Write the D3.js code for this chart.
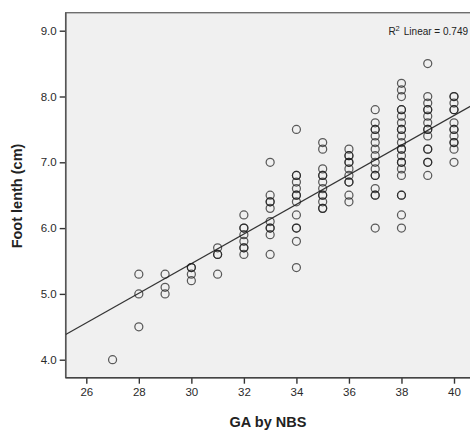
<!DOCTYPE html>
<html>
<head>
<meta charset="utf-8">
<script src="https://cdn.jsdelivr.net/npm/d3@7"></script>
<style>
  html, body { margin: 0; padding: 0; background: #fff; }
  svg { display: block; font-family: "Liberation Sans", Arial, sans-serif; }
</style>
</head>
<body>
<svg id="chart" width="470" height="431"></svg>
<script>
// ---- Data ----
const gaWeeks = [27, 28, 29, 30, 31, 32, 33, 34, 35, 36, 37, 38, 39, 40];
const footLengths = [
  [4.0],
  [5.3, 5.0, 4.5],
  [5.3, 5.1, 5.0],
  [5.4, 5.4, 5.3, 5.2],
  [5.7, 5.6, 5.6, 5.3],
  [6.2, 6.0, 6.0, 5.9, 5.8, 5.7, 5.7, 5.6],
  [7.0, 6.5, 6.4, 6.4, 6.3, 6.1, 6.0, 6.0, 5.9, 5.6],
  [7.5, 6.8, 6.8, 6.7, 6.6, 6.5, 6.5, 6.4, 6.2, 6.0, 6.0, 5.8, 5.4],
  [7.3, 7.2, 6.9, 6.8, 6.8, 6.7, 6.6, 6.5, 6.5, 6.4, 6.3, 6.3],
  [7.2, 7.1, 7.1, 7.0, 7.0, 6.9, 6.8, 6.7, 6.7, 6.5, 6.4],
  [7.8, 7.6, 7.5, 7.5, 7.4, 7.3, 7.2, 7.1, 7.0, 6.9, 6.8, 6.8, 6.6, 6.5, 6.5, 6.0],
  [8.2, 8.1, 8.0, 7.8, 7.8, 7.7, 7.6, 7.5, 7.5, 7.4, 7.3, 7.2, 7.2, 7.1, 7.0, 7.0, 6.9, 6.8, 6.5, 6.5, 6.2, 6.0],
  [8.5, 8.0, 7.9, 7.8, 7.8, 7.7, 7.6, 7.5, 7.5, 7.4, 7.2, 7.2, 7.0, 7.0, 6.8],
  [8.0, 8.0, 7.9, 7.8, 7.8, 7.6, 7.5, 7.5, 7.4, 7.3, 7.3, 7.2, 7.0]
];
const xTicks = [26, 28, 30, 32, 34, 36, 38, 40];
const yTicks = [4.0, 5.0, 6.0, 7.0, 8.0, 9.0];
const fitIntercept = -1.29;
const fitSlope = 0.225;
const r2Value = 0.749;
const xTitle = "GA by NBS";
const yTitle = "Foot lenth (cm)";

// ---- Layout ----
const svg = d3.select("#chart");
const plot = { left: 65.7, top: 12.7, right: 472, bottom: 377.7 };

const x = d3.scaleLinear().domain([26, 40]).range([86.3, 454]);
const y = d3.scaleLinear().domain([4, 9]).range([359.7, 30.7]);

// plot background
svg.append("rect")
  .attr("x", plot.left).attr("y", plot.top)
  .attr("width", plot.right - plot.left).attr("height", plot.bottom - plot.top)
  .attr("fill", "#f0f0f0").attr("stroke", "#6e6e6e").attr("stroke-width", 1.4);

svg.append("clipPath").attr("id", "clip").append("rect")
  .attr("x", plot.left).attr("y", plot.top)
  .attr("width", plot.right - plot.left).attr("height", plot.bottom - plot.top);

// axes
const yAxis = d3.axisLeft(y).tickValues(yTicks).tickFormat(d3.format(".1f")).tickSizeOuter(0).tickSize(6).tickPadding(3);
const gy = svg.append("g").attr("transform", `translate(${plot.left},0)`).call(yAxis);
gy.select(".domain").remove();

const xAxis = d3.axisBottom(x).tickValues(xTicks).tickFormat(d3.format("d")).tickSizeOuter(0).tickSize(6).tickPadding(4);
const gx = svg.append("g").attr("transform", `translate(0,${plot.bottom})`).call(xAxis);
gx.select(".domain").remove();

svg.selectAll(".tick line").attr("stroke", "#333").attr("stroke-width", 1.4);
svg.selectAll(".tick text").attr("fill", "#2a2a2a").style("font-size", "11.5px")
  .style("font-family", "'Liberation Sans', Arial, sans-serif");

// left and bottom axis lines (darker)
svg.append("line").attr("x1", plot.left).attr("x2", plot.left)
  .attr("y1", plot.top).attr("y2", plot.bottom).attr("stroke", "#555").attr("stroke-width", 1.5);
svg.append("line").attr("x1", plot.left).attr("x2", plot.right)
  .attr("y1", plot.bottom).attr("y2", plot.bottom).attr("stroke", "#444").attr("stroke-width", 1.5);

// fit line
const xd = [x.invert(plot.left), x.invert(plot.right)];
svg.append("line")
  .attr("clip-path", "url(#clip)")
  .attr("x1", x(xd[0])).attr("y1", y(fitIntercept + fitSlope * xd[0]))
  .attr("x2", x(xd[1])).attr("y2", y(fitIntercept + fitSlope * xd[1]))
  .attr("stroke", "#333").attr("stroke-width", 1.2);

// points
const pts = [];
gaWeeks.forEach((g, i) => footLengths[i].forEach(v => pts.push({ g, v })));
svg.append("g").attr("clip-path", "url(#clip)")
  .selectAll("circle").data(pts).join("circle")
  .attr("cx", d => x(d.g)).attr("cy", d => y(d.v)).attr("r", 4)
  .attr("fill", "none").attr("stroke", "#1a1a1a").attr("stroke-opacity", 0.7)
  .attr("stroke-width", 1.25);

// R2 label
const rt = svg.append("text").attr("x", 468).attr("y", 35).attr("text-anchor", "end")
  .attr("fill", "#222").style("font-size", "10px");
rt.append("tspan").text("R");
rt.append("tspan").attr("dy", -4).style("font-size", "7.5px").text("2");
rt.append("tspan").attr("dy", 4).attr("dx", 4).text("Linear = " + r2Value.toFixed(3));

// titles
svg.append("text").attr("x", 268).attr("y", 427).attr("text-anchor", "middle")
  .style("font-size", "14.5px").style("font-weight", "bold").attr("fill", "#222").text(xTitle);
svg.append("text").attr("transform", "translate(22,196) rotate(-90)").attr("text-anchor", "middle")
  .style("font-size", "14.5px").style("font-weight", "bold").attr("fill", "#222").text(yTitle);
</script>
</body>
</html>
